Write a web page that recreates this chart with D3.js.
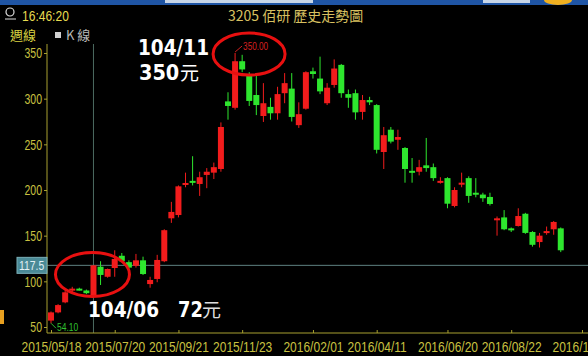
<!DOCTYPE html>
<html lang="zh-Hant">
<head>
<meta charset="UTF-8">
<title>3205 佰研 歷史走勢圖</title>
<script src="https://d3js.org/d3.v7.min.js"></script>
<style>
  body { margin: 0; background: #000; }
  svg { display: block; background: #000; }
  .axis path, .axis line { stroke: #a8a030; }
  .axis text { fill: #c8c040; font-family: "Liberation Sans", Arial, sans-serif; font-size: 15px; }
</style>
</head>
<body>
<svg id="chart" width="588" height="356"></svg>
<script>
// weekly candles, 2015/05/18 .. 2016/10/10 (Lunar New Year week 2016/02/08 has no bar)
const dates = [
  "2015/05/18","2015/05/25","2015/06/01","2015/06/08","2015/06/15","2015/06/22","2015/06/29","2015/07/06","2015/07/13","2015/07/20",
  "2015/07/27","2015/08/03","2015/08/10","2015/08/17","2015/08/24","2015/08/31","2015/09/07","2015/09/14","2015/09/21","2015/09/28",
  "2015/10/05","2015/10/12","2015/10/19","2015/10/26","2015/11/02","2015/11/09","2015/11/16","2015/11/23","2015/11/30","2015/12/07",
  "2015/12/14","2015/12/21","2015/12/28","2016/01/04","2016/01/11","2016/01/18","2016/01/25","2016/02/01","2016/02/15","2016/02/22",
  "2016/02/29","2016/03/07","2016/03/14","2016/03/21","2016/03/28","2016/04/04","2016/04/11","2016/04/18","2016/04/25","2016/05/02",
  "2016/05/09","2016/05/16","2016/05/23","2016/05/30","2016/06/06","2016/06/13","2016/06/20","2016/06/27","2016/07/04","2016/07/11",
  "2016/07/18","2016/07/25","2016/08/01","2016/08/08","2016/08/15","2016/08/22","2016/08/29","2016/09/05","2016/09/12","2016/09/19",
  "2016/09/26","2016/10/03","2016/10/10","2016/10/17","2016/10/24","2016/10/31","2016/11/07","2016/11/14"
];
const open  = [57,66,77,90,92,90,85,116,105,114.6,128,121,117,123,97,102.6,122,169,172.6,205.5,
               210,206.6,216.5,219,223,297,290,341,325,304,281,291,284,306,311,271,289,330,322,295,
               315,337,305,306,285.5,298.5,293,241.6,266,255,246,221,220,227,225,208,213,182.5,206.6,213,
               197,195,192.4,167,170,158,160.6,174,154,143,153,157,158];
const high  = [67,75,90,94,93,91,117.5,122,114,134,131,123,130,127,105,129,157,187,205,219,
               237,220,224,230,274,307,350,348,329,326,317,301,313,328,328,296,330,334,346,317,
               343,338,310,310,304,302,294,269,269,266,247,235,233,257,229,214,214,203,219,215,
               213,197,197,171,178,159,180,175,155,153,160,166,159];
const low   = [54.1,65,76,88,90,86,85,96,104,105,121,113,115,107,93,99,121,164,170,203,
               205,193.5,202,212,220,277,288,329,292,282,274.5,277,277,295,275,268,288,322,305,293,
               312,301,290,277,277,293,240,223,251,244,208,208,216,220,210,207,180,181,203,186,
               192,187,183,150,156,154,160,152,138,137,151,151,132];
const close = [66,74,88,92,91,87,117.5,107,113.5,124.5,122,115,123,108,101.5,123.4,156,176,204,207.7,
               209,214,220,225,269,292,341,332,297.5,293,295,284,305,317,280,283,329,327,308,312,
               333,306,301,285,298.5,296,244,260,253,258,223,219,225,224,213,210,185,200,208,193.5,
               195,191,184.7,169,157,156,171.5,153,140,150,155,165,134];

const yTicks = [50, 100, 150, 200, 250, 300, 350];
const xTickLabels = ["2015/05/18","2015/07/20","2015/09/21","2015/11/23","2016/02/01",
                     "2016/04/11","2016/06/20","2016/08/22","2016/10/31"];

const W = 588, H = 356;
const UP = "#f21c1c", DOWN = "#2ee62e";
const svg = d3.select("#chart");

const x = d3.scalePoint().domain(dates).range([51, 51 + (dates.length - 1) * 7.08]);
const y = d3.scaleLinear().domain([50, 350]).range([327, 53]);

// top window strip
svg.append("rect").attr("x", 0).attr("y", 0).attr("width", W).attr("height", 5).attr("fill", "#1f55a5");
svg.append("rect").attr("x", 165).attr("y", 0).attr("width", 148).attr("height", 3).attr("fill", "#c8d6e8");
svg.append("rect").attr("x", 483).attr("y", 0).attr("width", 47).attr("height", 3).attr("fill", "#c8d6e8");
svg.append("ellipse").attr("cx", 558).attr("cy", 0).attr("rx", 14).attr("ry", 5).attr("fill", "#f0b020");

// header
svg.append("circle").attr("cx", 10).attr("cy", 12).attr("r", 4).attr("fill", "none").attr("stroke", "#ddd").attr("stroke-width", 1.2);
svg.append("line").attr("x1", 5).attr("x2", 16).attr("y1", 19).attr("y2", 19).attr("stroke", "#ddd");
svg.append("text").attr("transform", "translate(22,21) scale(0.86,1)")
  .attr("fill", "#e8dc50").style("font", "14px 'Liberation Sans', sans-serif").text("16:46:20");
svg.append("text").attr("x", 228).attr("y", 21).attr("fill", "#d8c060")
  .style("font", "14px 'Noto Sans CJK TC', sans-serif").text("3205 佰研 歷史走勢圖");
svg.append("text").attr("x", 10).attr("y", 40).attr("fill", "#d8d040")
  .style("font", "13px 'Noto Sans CJK TC', sans-serif").text("週線");
svg.append("rect").attr("x", 55).attr("y", 32).attr("width", 6).attr("height", 6).attr("fill", "#d0d0d0");
svg.append("text").attr("x", 66).attr("y", 40).attr("fill", "#b8b8b8")
  .style("font", "13px 'Noto Sans CJK TC', sans-serif").text("K 線");

// crosshair
svg.append("line").attr("x1", x(dates[6])).attr("x2", x(dates[6])).attr("y1", 44).attr("y2", 333)
  .attr("stroke", "#4c6a60").attr("stroke-width", 1);
svg.append("line").attr("x1", 47).attr("x2", W).attr("y1", y(117.5)).attr("y2", y(117.5))
  .attr("stroke", "#5e8080").attr("stroke-width", 1);

// axes
const yAxis = svg.append("g").attr("class", "axis").attr("transform", "translate(47,0)")
  .call(d3.axisLeft(y).tickValues(yTicks).tickSize(3).tickPadding(2).tickSizeOuter(0));
yAxis.select(".domain").attr("d", "M0,44V333");
yAxis.selectAll("text").attr("x", null).attr("transform", "translate(-5,0) scale(0.7,1)");

const xAxis = svg.append("g").attr("class", "axis").attr("transform", "translate(0,333)")
  .call(d3.axisBottom(x).tickValues(xTickLabels).tickSizeInner(-3).tickSizeOuter(0).tickPadding(8));
xAxis.select(".domain").attr("d", "M47,0H" + W);
xAxis.selectAll("text").attr("y", null).attr("transform", "translate(0,8) scale(0.8,1)");

// candles
const candles = open.map((o, i) => ({ d: dates[i], o, h: high[i], l: low[i], c: close[i] }));
const g = svg.append("g");
g.selectAll("line.wick").data(candles).join("line")
  .attr("x1", d => x(d.d)).attr("x2", d => x(d.d))
  .attr("y1", d => y(d.h)).attr("y2", d => y(d.l))
  .attr("stroke", d => d.c >= d.o ? UP : DOWN).attr("stroke-width", 1);
g.selectAll("rect.body").data(candles).join("rect")
  .attr("x", d => x(d.d) - 3).attr("width", 6)
  .attr("y", d => y(Math.max(d.o, d.c)))
  .attr("height", d => Math.max(2, Math.abs(y(d.o) - y(d.c))))
  .attr("fill", d => d.c >= d.o ? UP : DOWN);

// price box
svg.append("rect").attr("x", 17).attr("y", y(117.5) - 8).attr("width", 30).attr("height", 16)
  .attr("fill", "#4a8a96").attr("stroke", "#7ab0b8");
svg.append("text").attr("transform", `translate(19,${y(117.5) + 5}) scale(0.8,1)`)
  .attr("fill", "#e0f0f4").style("font", "13px 'Liberation Sans', sans-serif").text("117.5");

// high / low markers
const iHi = high.indexOf(d3.max(high)), iLo = low.indexOf(d3.min(low));
const hx = x(dates[iHi]), hy = y(high[iHi]);
svg.append("path").attr("d", `M${hx},${hy - 1}L${hx + 7},${hy - 7}`).attr("stroke", "#d02020").attr("fill", "none");
svg.append("text").attr("transform", `translate(${hx + 8},${hy - 3}) scale(0.82,1)`)
  .attr("fill", "#d82020").style("font", "10px 'Liberation Sans', sans-serif").text(high[iHi].toFixed(2));
const lx = x(dates[iLo]), ly = y(low[iLo]);
svg.append("path").attr("d", `M${lx},${ly}L${lx + 5},${ly + 5}`).attr("stroke", "#30c030").attr("fill", "none");
svg.append("text").attr("transform", `translate(${lx + 6},${ly + 8}) scale(0.85,1)`)
  .attr("fill", "#30c030").style("font", "10px 'Liberation Sans', sans-serif").text(low[iLo].toFixed(2));

// hand-drawn annotations
svg.append("ellipse").attr("cx", x(dates[6]) - 1).attr("cy", y(107.5)).attr("rx", 37).attr("ry", 22)
  .attr("fill", "none").attr("stroke", "#e81010").attr("stroke-width", 3);
svg.append("ellipse").attr("cx", hx + 14).attr("cy", hy + 1).attr("rx", 36).attr("ry", 21)
  .attr("fill", "none").attr("stroke", "#e81010").attr("stroke-width", 3);

const big = (tx, ty, s, sx) => svg.append("text").attr("transform", `translate(${tx},${ty}) scale(${sx},1)`)
  .attr("fill", "#fff").style("font", "bold 21px 'DejaVu Sans', sans-serif").text(s);
const yuan = (tx, ty, c) => svg.append("text").attr("x", tx).attr("y", ty).attr("fill", c)
  .style("font", "19px 'Noto Sans CJK TC', sans-serif").text("元");
big(138, 55, "104/11", 0.88);
big(139, 80, "350", 0.92); yuan(180, 80, "#fff");
big(88, 317, "104/06", 0.88);
big(178, 317, "72", 0.85); yuan(202, 317, "#ddd");

// small orange icon at left edge
svg.append("rect").attr("x", 0).attr("y", 310).attr("width", 4).attr("height", 14).attr("fill", "#e8a020");
</script>
</body>
</html>
